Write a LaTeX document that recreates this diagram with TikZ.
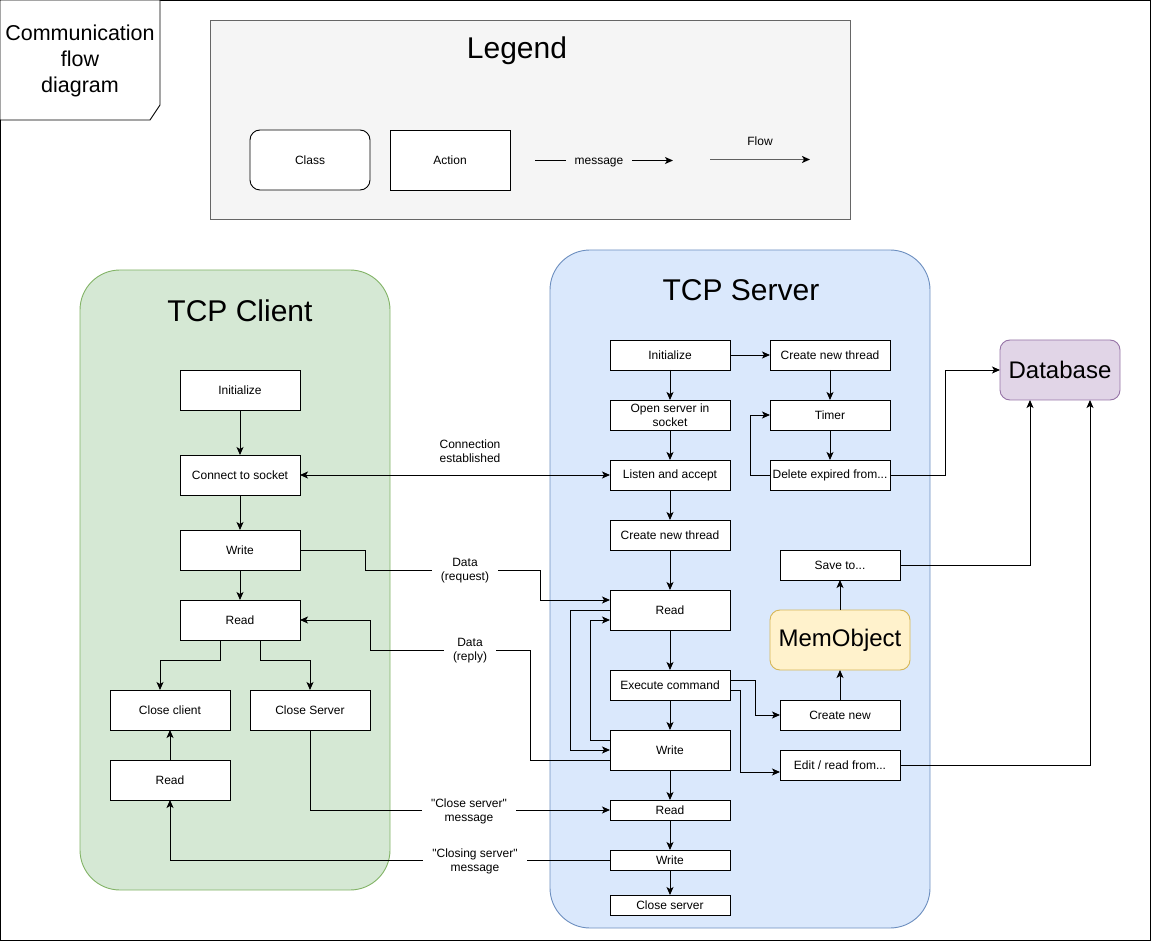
\documentclass[tikz,border=0pt]{standalone}
\usepackage{fontspec}
\setmainfont{Liberation Sans}
\usetikzlibrary{arrows.meta}
\definecolor{legfill}{HTML}{F5F5F5}
\definecolor{legdraw}{HTML}{666666}
\definecolor{gfill}{HTML}{D5E8D4}
\definecolor{gdraw}{HTML}{82B366}
\definecolor{bfill}{HTML}{DAE8FC}
\definecolor{bdraw}{HTML}{6C8EBF}
\definecolor{yfill}{HTML}{FFF2CC}
\definecolor{ydraw}{HTML}{D6B656}
\definecolor{pfill}{HTML}{E1D5E7}
\definecolor{pdraw}{HTML}{9673A6}
\newcommand\myfs[2]{\fontsize{#1}{#2}\selectfont}
\begin{document}
\begin{tikzpicture}[x=1pt,y=-1pt,
  every node/.style={inner sep=0pt, outer sep=0pt},
  act/.style={draw=black, fill=white, line width=0.9pt, minimum width=120pt, minimum height=#1, align=center, font=\myfs{12}{14}},
  act/.default=40pt,
  cls/.style={draw=black, fill=white, line width=0.9pt, rounded corners=10pt, minimum width=120pt, minimum height=60pt, font=\myfs{12}{14}},
  lbl/.style={fill=white, inner xsep=9pt, inner ysep=1pt, align=center, font=\myfs{12}{14}},
  txt/.style={align=center, font=\myfs{12}{14}},
  arr/.style={draw=black, line width=0.9pt, -{Stealth[length=8pt,width=7pt,inset=2pt]}},
  dbl/.style={draw=black, line width=0.9pt, {Stealth[length=8pt,width=7pt,inset=2pt]}-{Stealth[length=8pt,width=7pt,inset=2pt]}}
]
\useasboundingbox (0,0) rectangle (1152,941);
\draw[line width=1pt] (0.5,0.5) rectangle (1150.5,940.5);

% note
\draw[fill=white, line width=0.9pt] (0,0) -- (160,0) -- (160,105) -- (150,120) -- (0,120) -- cycle;
\node[align=center, font=\myfs{21.5}{26}] (title) at (80,61) {Communication\\flow\\diagram};

% legend
\node[draw=legdraw, fill=legfill, line width=0.9pt, minimum width=640pt, minimum height=199pt] (legend) at (530,119.5) {};
\node[font=\myfs{30}{32}] (legt) at (517,51) {Legend};
\node[cls] (lclass) at (310,160) {Class};
\node[act=60pt] (laction) at (450,160) {Action};
\coordinate (m1) at (535,160.5);
\coordinate (m2) at (673,160.5);
\draw[arr] (m1) -- (m2);
\node[lbl, fill=legfill, text depth=0pt] (lmsg) at (599,161) {message};
\coordinate (f1) at (710,159.5);
\coordinate (f2) at (810,159.5);
\draw[draw=gray!75!black, line width=1.4pt, -{Stealth[length=8pt,width=7pt,inset=2pt,color=black]}] (f1) -- (f2);
\node[txt] (lflow) at (760,141) {Flow};

% containers
\node[draw=gdraw, fill=gfill, rounded corners=40pt, line width=0.9pt, minimum width=310pt, minimum height=620pt] (client) at (235,580) {};
\node[font=\myfs{30}{34}] (clientt) at (240,311) {TCP Client};
\node[draw=bdraw, fill=bfill, rounded corners=40pt, line width=0.9pt, minimum width=380pt, minimum height=678pt] (server) at (740,589) {};
\node[font=\myfs{30}{34}] (servert) at (741,290) {TCP Server};

% client nodes
\node[act] (cinit) at (240,390.5) {Initialize};
\node[act] (cconn) at (240,475) {Connect to socket};
\node[act] (cwrite) at (240,550) {Write};
\node[act] (cread) at (240,620) {Read};
\node[act] (cclose) at (170,710) {Close client};
\node[act] (ccs) at (310,710) {Close Server};
\node[act] (cread2) at (170,780) {Read};

% server nodes
\node[act=30pt] (sinit) at (670,355) {Initialize};
\node[act=30pt] (sopen) at (670,415) {Open server in\\socket};
\node[act=30pt] (slisten) at (670,475) {Listen and accept};
\node[act=30pt] (sthread) at (670,535) {Create new thread};
\node[act] (sread) at (670,610) {Read};
\node[act=30pt] (sexec) at (670,685) {Execute command};
\node[act] (swrite) at (670,750) {Write};
\node[act=20pt] (sread2) at (670,810) {Read};
\node[act=20pt] (swrite2) at (670,860) {Write};
\node[act=20pt] (sclose) at (670,905) {Close server};
\node[act=30pt] (sthread2) at (830,355) {Create new thread};
\node[act=30pt] (stimer) at (830,415) {Timer};
\node[act=30pt] (sdel) at (830,475) {Delete expired from...};
\node[act=30pt] (ssave) at (840,565) {Save to...};
\node[draw=ydraw, fill=yfill, rounded corners=10pt, line width=0.9pt, minimum width=140pt, minimum height=60pt, font=\myfs{24}{28}] (mem) at (840,640) {MemObject};
\node[act=30pt] (snew) at (840,715) {Create new};
\node[act=30pt] (sedit) at (840,765) {Edit / read from...};
\node[draw=pdraw, fill=pfill, rounded corners=10pt, line width=0.9pt, minimum width=120pt, minimum height=60pt, font=\myfs{24}{28}] (db) at (1060,370) {Database};

% client flow
\draw[arr] (cinit) -- (cconn);
\draw[arr] (cconn) -- (cwrite);
\draw[arr] (cwrite) -- (cread);
\draw[arr] ([xshift=-20pt]cread.south) -- (220,660) -| ([xshift=-10pt]cclose.north);
\draw[arr] ([xshift=20pt]cread.south) -- (260,660) -| (ccs.north);
\draw[arr] (cread2) -- (cclose);

% server flow
\draw[arr] (sinit) -- (sopen);
\draw[arr] (sopen) -- (slisten);
\draw[arr] (slisten) -- (sthread);
\draw[arr] (sthread) -- (sread);
\draw[arr] (sread) -- (sexec);
\draw[arr] (sexec) -- (swrite);
\draw[arr] (swrite) -- (sread2);
\draw[arr] (sread2) -- (swrite2);
\draw[arr] (swrite2) -- (sclose);
\draw[arr] (sinit) -- (sthread2);
\draw[arr] (sthread2) -- (stimer);
\draw[arr] (stimer) -- (sdel);
\draw[arr] (sdel.west) -- (750,475) |- (stimer.west);
\draw[arr] (sread.west) -- (570,610) |- (swrite.west);
\draw[arr] ([yshift=10pt]swrite.west) -- (590,740) |- ([yshift=-10pt]sread.west);
\draw[arr] ([yshift=5pt]sexec.east) -- (755,680) |- (snew.west);
\draw[arr] ([yshift=-5pt]sexec.east) -- (740,690) |- ([yshift=-7pt]sedit.west);
\draw[arr] (snew) -- (mem);
\draw[arr] (mem) -- (ssave);
\draw[arr] (sdel.east) -- (945,475) |- (db.west);
\draw[arr] (ssave.east) -| ([xshift=-30pt]db.south);
\draw[arr] (sedit.east) -| ([xshift=30pt]db.south);

% messages
\draw[dbl] (cconn.east) -- (slisten.west);
\node[txt] (lconn) at (470,451) {Connection\\established};
\draw[arr] (cwrite.east) -- (365,550) -- (365,570) -- (540,570) -- (540,600) -- ([yshift=10pt]sread.west);
\node[lbl] (lreq) at (465,571) {Data\\(request)};
\draw[arr] ([yshift=-10pt]swrite.west) -- (530,760) |- (370,650) |- (cread.east);
\node[lbl] (lrep) at (470,651) {Data\\(reply)};
\draw[arr] (ccs.south) -- (310,810) -- (sread2.west);
\node[lbl] (lcs) at (469,811) {\textquotedbl Close server\textquotedbl\\message};
\draw[arr] (swrite2.west) -- (170,860) -- (cread2.south);
\node[lbl] (lcl) at (475,861) {\textquotedbl Closing server\textquotedbl\\message};
\end{tikzpicture}
\end{document}
